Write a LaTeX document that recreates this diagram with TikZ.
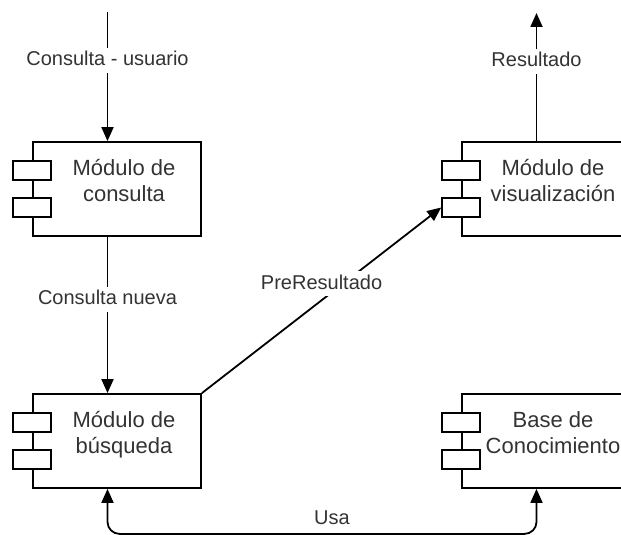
\documentclass[tikz,border=0pt]{standalone}
\usepackage{fontspec}
\setmainfont{Liberation Sans}
\usetikzlibrary{arrows.meta,calc}
\definecolor{txt}{HTML}{333333}

\begin{document}
\begin{tikzpicture}[x=1pt,y=-1pt,
  comp/.style={draw=black, line width=1.8pt, fill=white,
    minimum width=168pt, minimum height=94pt, inner sep=0pt},
  port/.style={draw=black, line width=1.8pt, fill=white,
    minimum width=38pt, minimum height=19pt, inner sep=0pt},
  boxtext/.style={font=\fontsize{22}{26}\selectfont, text=txt,
    align=center, anchor=base, inner sep=0pt},
  elabel/.style={font=\fontsize{20}{24}\selectfont, text=txt, fill=white,
    text height=15pt, text depth=4pt, inner sep=3pt},
  flow/.style={draw=black, line width=1.8pt, -{Triangle[length=14pt,width=12pt]}},
  both/.style={draw=black, line width=1.8pt,
    {Triangle[length=14pt,width=12pt]}-{Triangle[length=14pt,width=12pt]}},
]
\useasboundingbox (0,0) rectangle (621,535);
\clip (0,0) rectangle (621,535);

% component boxes
\node[comp] (consulta) at (117,189) {};
\node[comp] (vis)      at (546,189) {};
\node[comp] (busqueda) at (117,441) {};
\node[comp] (base)     at (546,441) {};

% the two small port rectangles on the left edge of each component
\foreach \n in {consulta,vis,busqueda,base} {
  \node[port] (\n-p1) at ($(\n.west)+(0,-18.5)$) {};
  \node[port] (\n-p2) at ($(\n.west)+(0,18.5)$) {};
}

% component titles (anchored on the baseline of the last line)
\node[boxtext] (consulta-t) at ($(consulta.center)+(7,12)$) {Módulo de\\consulta};
\node[boxtext] (vis-t)      at ($(vis.center)+(7,12)$)      {Módulo de\\visualización};
\node[boxtext] (busqueda-t) at ($(busqueda.center)+(7,12)$) {Módulo de\\búsqueda};
\node[boxtext] (base-t)     at ($(base.center)+(7,12)$)     {Base de\\Conocimiento};

% loose ends of the incoming and outgoing flows
\coordinate (entrada) at (107.5,12);
\coordinate (salida)  at (536.5,13);

% connectors
\draw[flow] (entrada) -- ($(consulta.north)+(-9.5,0)$)
  node[elabel, pos=0.375] (l-usuario) {Consulta - usuario};
\draw[flow] ($(vis.north)+(-9.5,0)$) -- (salida)
  node[elabel, pos=0.625] (l-resultado) {Resultado};
\draw[flow] ($(consulta.south)+(-9.5,0)$) -- ($(busqueda.north)+(-9.5,0)$)
  node[elabel, pos=0.4] (l-nueva) {Consulta nueva};
\draw[flow] (busqueda.north east) -- (vis-p2.west)
  coordinate[pos=0.5] (pre-mid);
\node[elabel] (l-pre) at ($(pre-mid)+(0,-16.5)$) {PreResultado};
\draw[both, rounded corners=12pt]
  ($(busqueda.south)+(-9.5,0)$) -- ++(0,45) -| ($(base.south)+(-9.5,0)$);
\node[font=\fontsize{20}{24}\selectfont, text=txt] (l-usa) at (332,518) {Usa};
\end{tikzpicture}
\end{document}
